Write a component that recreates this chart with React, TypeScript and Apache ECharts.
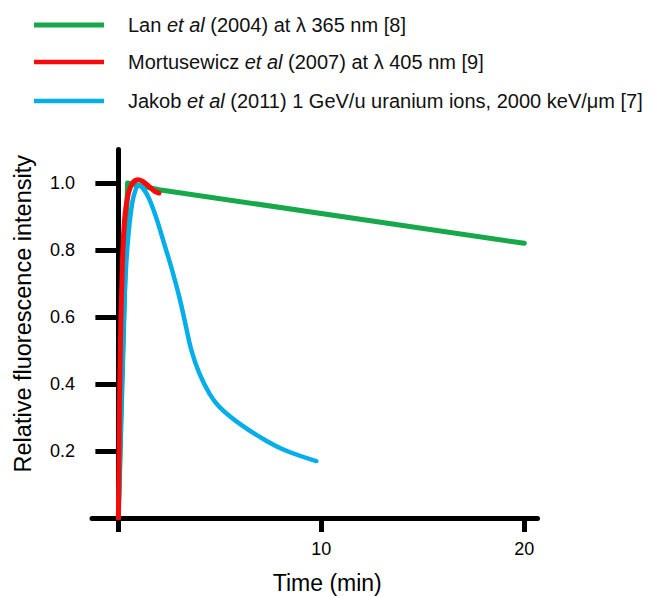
import React, { useEffect, useRef } from "react";
import * as echarts from "echarts";

const FONT = "'Liberation Sans', Arial, Helvetica, sans-serif";

const seriesNames = [
  "Lan et al (2004) at λ 365 nm [8]",
  "Mortusewicz et al (2007) at λ 405 nm [9]",
  "Jakob et al (2011) 1 GeV/u uranium ions, 2000 keV/μm [7]",
];
const seriesColors = ["#17a84b", "#f80a0a", "#03aeea"];

// Lan et al (2004)
const lanTime = [0, 0.45, 2.0, 20];
const lanIntensity = [0, 1.0, 0.98, 0.82];

// Mortusewicz et al (2007)
const mortTime = [0, 0.08, 0.18, 0.28, 0.43, 0.65, 0.95, 1.2, 1.5, 1.8, 2.0];
const mortIntensity = [0, 0.45, 0.72, 0.87, 0.95, 0.995, 1.01, 1.005, 0.99, 0.975, 0.97];

// Jakob et al (2011)
const jakobTime = [0, 0.15, 0.25, 0.35, 0.5, 0.68, 0.85, 1.0, 1.2, 1.5, 1.9, 2.3, 2.6, 3.0, 3.3, 3.6, 4.0, 4.5, 5.0, 6.0, 7.3, 8.3, 9.75];
const jakobIntensity = [0, 0.35, 0.55, 0.72, 0.85, 0.94, 0.98, 0.993, 0.985, 0.955, 0.89, 0.81, 0.75, 0.66, 0.58, 0.5, 0.43, 0.37, 0.33, 0.28, 0.23, 0.2, 0.17];

const xTickValues = [0, 10, 20];
const xLabelValues = [10, 20];
const yTickValues = [0.2, 0.4, 0.6, 0.8, 1.0];

const zip = (xs: number[], ys: number[]) => xs.map((x, i) => [x, ys[i]]);

export default function App() {
  const ref = useRef<HTMLDivElement>(null);
  useEffect(() => {
    if (!ref.current) return;
    const chart = echarts.init(ref.current, undefined, { renderer: "svg" });
    const legendTops = [8, 45, 84];
    const legends = seriesNames.map((n, i) => ({
      data: [n],
      left: 29,
      top: legendTops[i],
      icon: "rect",
      itemWidth: 70,
      itemHeight: i === 0 ? 5 : 4.5,
      selectedMode: false,
      formatter: (name: string) => name.replace("et al", "{i|et al}"),
      textStyle: {
        fontFamily: FONT,
        fontSize: 20,
        color: "#111",
        lineHeight: 24,
        padding: [0, 0, 0, 19],
        rich: {
          i: { fontFamily: FONT, fontSize: 20, fontStyle: "italic", color: "#111" },
        },
      },
    }));
    const datasets = [
      zip(lanTime, lanIntensity),
      zip(mortTime, mortIntensity),
      zip(jakobTime, jakobIntensity),
    ];
    const widths = [5, 5, 4.5];
    const zs = [2, 4, 3];
    const smooths: (number | boolean)[] = [false, 0.4, 0.4];
    chart.setOption({
      animation: false,
      legend: legends,
      grid: {
        left: 92,
        right: 116.5,
        top: 149.5,
        bottom: 78,
        containLabel: false,
        outerBoundsMode: "none",
      },
      xAxis: {
        type: "value",
        min: -1.3,
        max: 20.65,
        splitLine: { show: false },
        axisLine: { show: true, onZero: false, lineStyle: { color: "#000", width: 5 } },
        axisTick: { show: true, customValues: xTickValues, length: 14, lineStyle: { color: "#000", width: 5 } },
        axisLabel: {
          customValues: xLabelValues,
          margin: 22,
          fontSize: 18,
          fontFamily: FONT,
          color: "#000",
        },
        name: "Time (min)",
        nameLocation: "middle",
        nameGap: 53,
        nameMoveOverlap: false,
        nameTextStyle: { fontSize: 23, fontFamily: FONT, color: "#000", padding: [0, 0, 0, 25] },
      },
      yAxis: {
        type: "value",
        min: 0,
        max: 1.1,
        splitLine: { show: false },
        axisLine: { show: true, onZero: true, lineStyle: { color: "#000", width: 5 } },
        axisTick: { show: true, customValues: yTickValues, length: 23, lineStyle: { color: "#000", width: 5 } },
        axisLabel: {
          customValues: yTickValues,
          margin: 17,
          fontSize: 18,
          fontFamily: FONT,
          color: "#000",
          formatter: (v: number) => v.toFixed(1),
        },
        name: "Relative fluorescence intensity",
        nameLocation: "middle",
        nameGap: 57,
        nameMoveOverlap: false,
        nameTextStyle: { fontSize: 23.5, fontFamily: FONT, color: "#000", padding: [0, 0, 0, 40] },
      },
      series: seriesNames.map((n, i) => ({
        name: n,
        type: "line",
        data: datasets[i],
        showSymbol: false,
        symbol: "none",
        smooth: smooths[i],
        z: zs[i],
        lineStyle: { color: seriesColors[i], width: widths[i], cap: "round", join: "round" },
        itemStyle: { color: seriesColors[i] },
      })),
    });
    return () => chart.dispose();
  }, []);
  return (
    <div
      ref={ref}
      style={{ position: "fixed", left: 0, top: 0, width: 654, height: 596, background: "#fff" }}
    />
  );
}
